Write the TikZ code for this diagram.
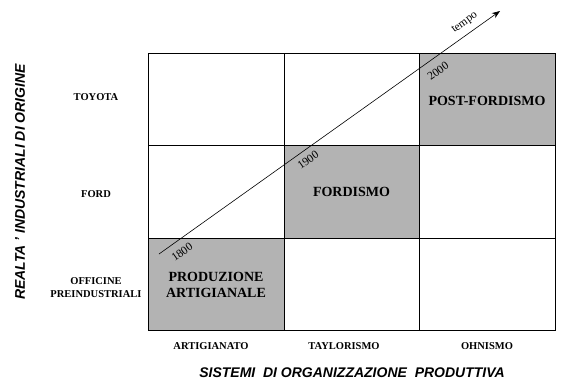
\documentclass[tikz,border=0pt]{standalone}
\usepackage{fontspec}
\setmainfont{Liberation Serif}
\setsansfont{Liberation Sans}
\usetikzlibrary{arrows.meta}
\definecolor{cellgray}{RGB}{179,179,179}
\begin{document}
\begin{tikzpicture}[x=1pt,y=-1pt,
  cellfill/.style={fill=cellgray,draw=none},
  gridline/.style={draw=black,line width=0.8pt},
  celltext/.style={font=\fontsize{14}{16}\selectfont\bfseries,align=center,inner sep=0pt},
  axlabel/.style={font=\fontsize{10.5}{13}\selectfont\bfseries,align=center,inner sep=0pt},
  yearlabel/.style={font=\fontsize{11.5}{13}\selectfont,rotate=35.5,inner sep=0pt},
  axistitle/.style={font=\fontsize{14}{16}\selectfont\sffamily\bfseries\itshape,inner sep=0pt},
  timearrow/.style={draw=black,line width=0.6pt,-{Stealth[length=8pt,width=6pt]}}]
\useasboundingbox (0,0) rectangle (561,384);
% shaded cells
\fill[cellfill] (148,238) rectangle (284,330);
\fill[cellfill] (284,145) rectangle (419,238);
\fill[cellfill] (419,53) rectangle (555,145);
% grid
\draw[gridline] (148,53) rectangle (555,330);
\draw[gridline] (284,53) -- (284,330);
\draw[gridline] (419,53) -- (419,330);
\draw[gridline] (148,145) -- (555,145);
\draw[gridline] (148,238) -- (555,238);
% cell texts
\node[celltext] (pf) at (487,101) {POST-FORDISMO};
\node[celltext] (fo) at (351.5,192) {FORDISMO};
\node[celltext] (pa) at (216,285) {PRODUZIONE\\ARTIGIANALE};
% row labels
\node[axlabel] (toy) at (96,97) {TOYOTA};
\node[axlabel] (ford) at (96,194) {FORD};
\node[axlabel] (off) at (96,288) {OFFICINE\\PREINDUSTRIALI};
% column labels
\node[axlabel] (art) at (211,346) {ARTIGIANATO};
\node[axlabel] (tay) at (344,346) {TAYLORISMO};
\node[axlabel] (ohn) at (487,346) {OHNISMO};
% axis titles
\node[axistitle] (xt) at (352,373) {SISTEMI\ \ DI ORGANIZZAZIONE\ \ PRODUTTIVA};
\node[axistitle,rotate=90] (yt) at (20,182) {REALTA ' INDUSTRIALI DI ORIGINE};
% time arrow
\coordinate (ts) at (159,254);
\coordinate (te) at (500,11);
\draw[timearrow] (ts) -- (te);
\node[yearlabel] (y18) at (182,252) {1800};
\node[yearlabel] (y19) at (308,160) {1900};
\node[yearlabel] (y20) at (438,71) {2000};
\node[yearlabel] (tmp) at (465,23) {tempo};
\end{tikzpicture}
\end{document}
